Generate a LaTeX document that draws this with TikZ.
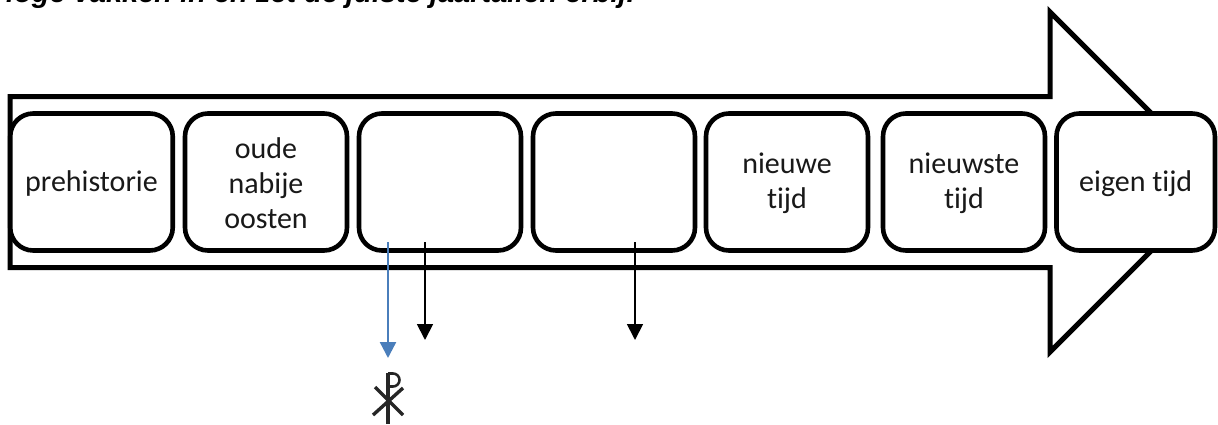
\documentclass[tikz,border=0pt]{standalone}
\usepackage{fontspec}
\setmainfont[Ligatures=NoCommon]{Carlito}
\newfontfamily\headfont{Liberation Sans}
\usetikzlibrary{arrows.meta}
\definecolor{blueline}{RGB}{74,126,187}
\tikzset{
  box/.style={draw=black,line width=4.6pt,fill=white,rounded corners=23pt,minimum height=137pt,inner sep=0pt},
  boxtext/.style={align=center,font=\fontsize{30}{35}\selectfont,inner sep=0pt,yshift=-1.5pt,text=black!90},
  arrowshape/.style={draw=black,line width=5pt,fill=white,miter limit=10},
  blk/.style={draw=black,line width=1.8pt,-{Triangle[length=16pt,width=16pt]}},
  blu/.style={draw=blueline,line width=2.4pt,-{Triangle[length=16pt,width=16pt]}},
  chirho/.style={draw=black!85,line width=3.4pt,line cap=butt}
}
\begin{document}
\begin{tikzpicture}[x=1pt,y=-1pt]
\useasboundingbox (0,0) rectangle (1218,424);
\clip (0,0) rectangle (1218,424);
\node[anchor=base west,inner sep=0pt,font=\headfont\bfseries\itshape\fontsize{29}{33}\selectfont] (head) at (6,2) {loge vakken in en zet de juiste jaartallen erbij.};
\draw[arrowshape] (10,96.5) -- (1050,96.5) -- (1050,12) -- (1190,152) -- (1190,212) -- (1050,352) -- (1050,267.5) -- (10,267.5) -- cycle;
\node[box,minimum width=162.5pt,label={[boxtext]center:prehistorie}] (a) at (91.5,182) {};
\node[box,minimum width=162pt,label={[boxtext]center:{oude\\nabije\\oosten}}] (b) at (266,182) {};
\node[box,minimum width=162pt] (c) at (440,182) {};
\node[box,minimum width=162pt] (d) at (614,182) {};
\node[box,minimum width=162pt,label={[boxtext]center:{nieuwe\\tijd}}] (e) at (787,182) {};
\node[box,minimum width=162pt,label={[boxtext]center:{nieuwste\\tijd}}] (f) at (964,182) {};
\node[box,minimum width=158.5pt,label={[boxtext]center:eigen tijd}] (g) at (1135.7,182) {};
\coordinate (c1) at (388,242);
\coordinate (c2) at (388,358);
\coordinate (k1) at (425,242);
\coordinate (k2) at (425,340);
\coordinate (m1) at (635,242);
\coordinate (m2) at (635,340);
\draw[blk] (k1) -- (k2);
\draw[blk] (m1) -- (m2);
\draw[blu] (c1) -- (c2);
% chi-rho
\draw[chirho] (388,373) -- (388,424);
\draw[chirho,line width=2.6pt] (388,373.5) -- (393,373.5) arc[start angle=90,end angle=-90,radius=6.5pt] -- (388,386.5);
\draw[chirho] (375,387) -- (403,415);
\draw[chirho] (403,388) -- (373,415);
\end{tikzpicture}
\end{document}
